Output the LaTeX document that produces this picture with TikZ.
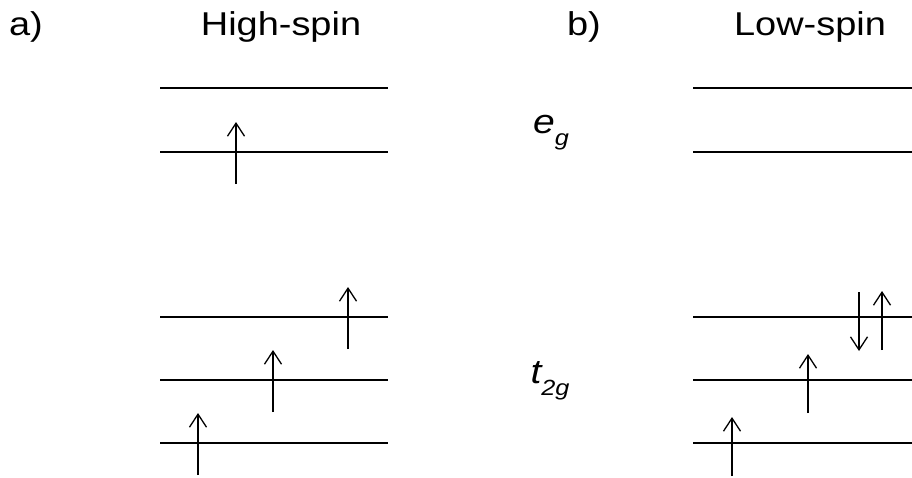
\documentclass[tikz,border=0pt]{standalone}
\usepackage{fontspec}
\setmainfont{Liberation Sans}
\usetikzlibrary{arrows.meta}

% text in the figure is a little wider than the font
\newcommand{\wide}[1]{\scalebox{1.15}[1]{#1}}
\newcommand{\orbsub}[1]{\raisebox{-12pt}{\fontsize{22}{22}\selectfont #1}}

\begin{document}
\begin{tikzpicture}[x=1pt, y=-1pt,
    level/.style={line width=1.3pt},
    spin/.style={line width=1.3pt,
      -{Straight Barb[length=13pt, width=17pt, line width=1.3pt]}},
    title/.style={inner sep=0pt, anchor=base,
      font=\fontsize{33}{38}\selectfont},
    orbital/.style={inner sep=0pt, anchor=base,
      font=\fontsize{34}{38}\selectfont\itshape}]

  \useasboundingbox (0,0) rectangle (912,477);

  % headings
  \node[title] (hs-tag)  at (26,35)  {\wide{a)}};
  \node[title] (hs-name) at (281,35) {\wide{High-spin}};
  \node[title] (ls-tag)  at (584,35) {\wide{b)}};
  \node[title] (ls-name) at (810,35) {\wide{Low-spin}};

  % orbital labels
  \node[orbital] (eg)  at (551,133) {\wide{e\orbsub{g}}};
  \node[orbital] (t2g) at (550,383) {\wide{t\orbsub{2g}}};

  % energy levels
  \foreach \y in {88,152,317,380,443} {
    \draw[level] (160,\y) -- (388,\y);
    \draw[level] (693,\y) -- (912,\y);
  }

  % electrons, high-spin
  \foreach \x/\y in {236/152, 198/443, 273/380, 348/317}
    \draw[spin] (\x,\y+32) -- (\x,\y-30);

  % electrons, low-spin
  \foreach \x/\y in {732/443, 808/380, 882/317}
    \draw[spin] (\x,\y+33) -- (\x,\y-26);
  \draw[spin] (859,292) -- (859,351);
\end{tikzpicture}
\end{document}
